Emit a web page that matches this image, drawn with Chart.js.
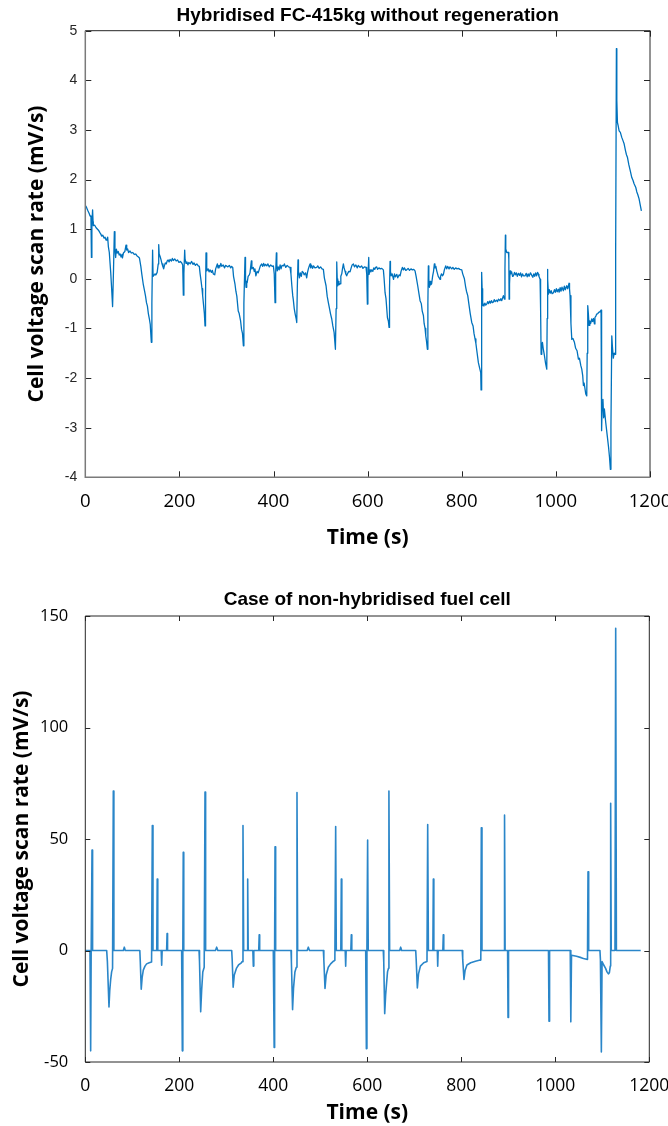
<!DOCTYPE html>
<html>
<head>
<meta charset="utf-8">
<script src="https://cdn.jsdelivr.net/npm/chart.js@4.4.1/dist/chart.umd.min.js"></script>
<style>
  html, body { margin: 0; padding: 0; background: #fff; }
  body { width: 668px; height: 1126px; position: relative; overflow: hidden; }
  canvas { position: absolute; left: 0; }
  #c1 { top: 0; }
  #c2 { top: 563px; }
</style>
</head>
<body>
<canvas id="c1" width="668" height="563" style="width:668px;height:563px"></canvas>
<canvas id="c2" width="668" height="563" style="width:668px;height:563px"></canvas>
<script>
// ---------------- DATA ----------------
const titleTop = 'Hybridised FC-415kg without regeneration';
const titleBottom = 'Case of non-hybridised fuel cell';
const xAxisLabel = 'Time (s)';
const yAxisLabel = 'Cell voltage scan rate (mV/s)';

const xTickRange = [0, 1200, 200];        // min, max, step (both charts)
const yTickRangeTop = [-4, 5, 1];
const yTickRangeBottom = [-50, 150, 50];

// [time (s), scan rate (mV/s)] – hybridised FC-415kg
const hybridPoints = [
 [0,1.48],[2,1.45],[5,1.38],[8,1.32],[10,1.27],[12,1.25],[13,0.43],[14,1.1],[15.5,1.39],[16.5,1.15],[17,1.07],
 [20,1.08],[23,1.03],[26,1.0],[28,0.98],[31,0.93],[33,0.9],[35,0.86],[37,0.88],[40,0.82],[42,0.84],[44,0.78],
 [46,0.8],[47.5,0.84],[49,0.65],[51,0.53],[54,0.13],[56,-0.2],[58,-0.56],[60,0.2],[61.7,0.95],[63,0.6],[64.5,0.43],
 [66,0.6],[68,0.52],[70,0.55],[72,0.48],[74,0.5],[76,0.44],[78,0.49],[79,0.42],[81,0.52],[84,0.55],[86.5,0.68],
 [88,0.58],[90,0.6],[92,0.53],[95,0.56],[98,0.52],[101,0.53],[104,0.49],[107,0.5],[110,0.46],[113,0.44],[115,0.42],
 [118,0.25],[120,0.1],[123,-0.1],[126,-0.25],[128,-0.35],[130,-0.48],[132,-0.55],[134,-0.7],[136,-0.8],[138,-0.92],
 [140.3,-1.28],[141.5,-0.5],[143,0.58],[144,0.05],[146,0.08],[148,0.1],[150,0.08],[152.7,0.13],[155,0.3],[156,0.69],
 [157,0.5],[159,0.45],[161,0.38],[163,0.3],[165,0.24],[166.5,0.2],[168,0.26],[170,0.32],[172,0.3],[174,0.36],
 [176,0.38],[178,0.34],[180,0.39],[183,0.36],[185,0.41],[187,0.37],[190,0.4],[193,0.36],[196,0.38],[199,0.33],
 [202,0.35],[205,0.32],[207,0.28],[208.3,-0.33],[209.5,0.1],[211.2,0.58],[212,0.4],[214,0.31],[216,0.34],[218,0.28],
 [220,0.33],[223,0.3],[226,0.35],[229,0.29],[231,0.32],[234,0.27],[237,0.3],[240,0.26],[242.3,0.25],[244,0.1],
 [246,-0.04],[248,-0.2],[249.4,-0.34],[251,-0.5],[253,-0.7],[254.4,-0.95],[255.5,-0.3],[256.5,0.52],[257.5,0.25],
 [258.6,0.16],[261,0.2],[263,0.14],[265,0.18],[268,0.13],[270,0.17],[272,0.1],[275,0.08],[277,0.2],[280.6,0.3],
 [282,0.22],[284,0.27],[286,0.24],[288,0.31],[290,0.25],[293,0.28],[296,0.22],[298,0.27],[300,0.26],[303,0.24],
 [306,0.27],[309,0.22],[311,0.25],[313.3,0.23],[315,0.05],[318,-0.1],[320,-0.25],[322,-0.35],[325,-0.65],[327,-0.7],
 [330,-0.85],[332,-1.02],[334,-1.1],[335.9,-1.35],[337,-0.5],[339.4,0.43],[340.5,0.0],[341.5,-0.17],[343,-0.05],
 [344,-0.08],[346,0.05],[348.5,0.08],[350,0.12],[352.9,0.36],[354,0.2],[357,0.23],[359,0.15],[360.5,0.2],[362.5,0.06],
 [365,0.15],[367.5,0.12],[370,0.2],[372,0.26],[374.9,0.3],[377,0.25],[379,0.31],[381,0.26],[383,0.29],[385.6,0.26],
 [388,0.3],[391,0.24],[394,0.28],[397,0.25],[399.7,0.26],[401.5,0.1],[403.2,-0.48],[404.5,0.1],[406,0.52],[407,0.3],
 [408,0.16],[410,0.24],[412,0.18],[414,0.28],[416,0.2],[418,0.27],[421,0.26],[423,0.3],[426,0.23],[429,0.27],
 [432,0.24],[435,0.23],[437,0.1],[439,-0.15],[440.8,-0.34],[442,-0.42],[444,-0.6],[446,-0.71],[448,-0.8],[449.3,-0.88],
 [450.5,-0.2],[452,0.38],[453,0.15],[455,0.02],[457,0.12],[459,0.05],[461,0.15],[463.3,0.13],[465,0.08],[468,0.12],
 [470.4,0.02],[472,0.12],[474,0.2],[476,0.26],[477.6,0.3],[479,0.22],[481,0.27],[483,0.21],[485,0.26],[488,0.22],
 [491.8,0.23],[494,0.26],[497,0.21],[500,0.24],[503,0.2],[505.9,0.19],[508,0.02],[511.6,-0.14],[514,-0.35],
 [516.5,-0.48],[519,-0.6],[521,-0.7],[523.7,-0.81],[526,-0.95],[528.7,-1.08],[531.5,-1.42],[533,-0.6],[534.3,0.34],
 [535.3,0.0],[536.4,-0.14],[538,-0.05],[539,-0.12],[541.4,-0.1],[543,0.05],[545,0.1],[546.5,0.2],[548.4,0.3],
 [550,0.22],[552,0.15],[553.5,0.1],[555.5,0.06],[557,0.1],[560,0.15],[562.6,0.14],[565,0.22],[567,0.28],[569.7,0.3],
 [572,0.24],[575,0.28],[578,0.22],[580,0.27],[583.9,0.23],[587,0.26],[590,0.21],[593,0.24],[596.6,0.23],[598,0.1],
 [599.4,-0.51],[600.5,0.0],[602.3,0.43],[603,0.09],[605,0.18],[607,0.14],[608.7,0.18],[611,0.15],[613,0.22],
 [615,0.19],[617,0.23],[619.3,0.24],[621,0.19],[624,0.22],[627,0.2],[630,0.21],[633.4,0.18],[635,0.0],[637,-0.28],
 [639,-0.4],[642,-0.78],[644,-0.85],[645.5,-0.98],[646.5,-0.2],[647.6,0.35],[648.5,0.15],[650,0.06],[652,0.1],
 [655,-0.01],[657,0.1],[659,0.04],[662,0.09],[664,0.02],[667,0.08],[669,0.06],[671,0.15],[673.8,0.23],[676,0.18],
 [678,0.22],[681,0.17],[683,0.18],[686,0.21],[689,0.17],[692,0.2],[695,0.18],[698,0.19],[700.7,0.16],[703,0.05],
 [706.4,-0.14],[709,-0.3],[711.4,-0.44],[714,-0.5],[716,-0.65],[718.5,-0.74],[720,-0.9],[722,-1.0],[723.5,-1.15],
 [725,-1.25],[726.9,-1.42],[728,-0.5],[729,0.26],[730,0.0],[731.3,-0.17],[733,-0.05],[734,-0.12],[736,-0.1],
 [738,0.05],[740,0.15],[741.8,0.3],[743,0.22],[745,0.25],[746.8,0.16],[748,0.12],[750,0.05],[752,0.02],[753.9,-0.01],
 [755,0.05],[757,0.1],[759,0.06],[761,0.09],[763,0.18],[765.9,0.26],[768,0.2],[770,0.25],[773,0.2],[775,0.24],
 [778.7,0.2],[781,0.23],[784,0.19],[787,0.22],[790,0.2],[793,0.21],[796,0.19],[800,0.18],[802,0.1],[805.6,0.0],
 [808,-0.15],[810,-0.25],[812.7,-0.34],[815,-0.5],[818,-0.7],[821.2,-0.88],[824,-0.95],[826,-1.1],[828.2,-1.21],
 [830,-1.3],[832,-1.45],[835.3,-1.69],[838,-1.8],[840.3,-1.89],[841,-2.24],[842,-1.0],[842.5,0.13],[843.3,-0.2],
 [843.8,-0.54],[845,-0.48],[847,-0.55],[849,-0.49],[851,-0.53],[853,-0.51],[855,-0.46],[857,-0.5],[859,-0.45],
 [861,-0.49],[863,-0.44],[865,-0.48],[867,-0.47],[869,-0.42],[871,-0.46],[874,-0.43],[876,-0.46],[878,-0.41],
 [881,-0.44],[883,-0.4],[885,-0.44],[887,-0.38],[888.5,-0.34],[890.6,-0.41],[891.8,0.2],[892.7,0.88],[893.5,0.6],
 [895.6,0.53],[899.2,0.53],[900,0.4],[900.6,-0.41],[901.5,-0.1],[902.7,0.16],[904,0.1],[906,0.14],[908,0.05],
 [909.8,0.06],[912,0.13],[914,0.08],[916,0.12],[918,0.05],[920.5,0.11],[923,0.07],[925,0.12],[927,0.04],[929,0.1],
 [931,0.06],[934.6,0.06],[937,0.11],[939,0.04],[941,0.1],[943,0.05],[946,0.12],[948.8,0.07],[951,0.03],[953,0.1],
 [955,0.05],[957,0.12],[959,0.06],[961,0.13],[962.9,0.09],[964,0.05],[966.4,-0.01],[967.5,-0.6],[968.6,-1.52],
 [970,-1.4],[971.4,-1.28],[973,-1.4],[975.7,-1.55],[978,-1.7],[980.6,-1.82],[981.5,-0.8],[982,0.19],[983,0.0],
 [984.2,-0.31],[986,-0.22],[988,-0.29],[990,-0.24],[992,-0.3],[994.8,-0.28],[997,-0.22],[999,-0.27],[1001,-0.2],
 [1003,-0.26],[1005.3,-0.21],[1007,-0.27],[1009,-0.18],[1011,-0.25],[1013,-0.17],[1015.9,-0.24],[1018,-0.15],
 [1020,-0.22],[1023,-0.14],[1025,-0.2],[1028,-0.09],[1029,-0.2],[1030.1,-0.34],[1032,-0.9],[1033.8,-1.22],
 [1036,-1.2],[1039.4,-1.28],[1042,-1.4],[1045,-1.45],[1047.9,-1.62],[1050,-1.6],[1053,-1.75],[1055,-1.82],
 [1057,-1.95],[1058.5,-2.15],[1060,-2.1],[1063.5,-2.32],[1065.6,-2.36],[1066.5,-1.5],[1067.7,-0.54],[1069,-0.7],
 [1070.5,-0.94],[1072,-0.85],[1074,-0.9],[1076.2,-0.81],[1078,-0.86],[1080,-0.8],[1081.9,-0.91],[1083,-0.78],
 [1085,-0.75],[1086.8,-0.71],[1089,-0.7],[1092,-0.67],[1094,-0.66],[1096,-0.63],[1096.8,-2.0],[1097.5,-3.06],
 [1098.5,-2.5],[1100,-2.43],[1101.5,-2.8],[1103,-2.62],[1106,-2.9],[1109,-3.15],[1112,-3.4],[1114,-3.6],
 [1115.8,-3.84],[1117,-3.0],[1118.8,-1.15],[1120,-1.35],[1122,-1.6],[1124,-1.5],[1125.8,-1.52],[1127,0.5],
 [1128.6,4.64],[1129.5,3.6],[1130.8,3.15],[1132,3.1],[1134.4,2.98],[1137,2.95],[1140,2.85],[1142,2.8],[1145,2.72],
 [1148,2.58],[1150,2.5],[1152,2.45],[1155,2.3],[1158,2.18],[1161.3,2.04],[1164,1.98],[1166,1.92],[1169.8,1.84],
 [1172,1.75],[1174,1.7],[1176.8,1.61],[1179,1.5],[1181.7,1.37]
];

// [time (s), scan rate (mV/s)] – non-hybridised fuel cell
const nonHybridPoints = [
 [0,0],[10,0],[11.4,-45],[12.5,0],[14.3,45],[15.5,0],[45.5,0],[47,-5],[50.4,-25.3],[52,-18],[54,-13],[56,-9.6],
 [58,-8],[59.6,71.5],[60.8,0],[81,0],[83,1.5],[85,0],[116,0],[117,-5],[119,-17.4],[121,-12],[123.4,-8.8],[127,-7],
 [130.5,-6],[136,-5.5],[141,-5.2],[142.6,56],[144,0],[152,0],[153,32],[154.2,0],[161.5,0],[162.5,-6.6],[163.5,0],
 [173,0],[174,7.6],[175,0],[205,0],[206.4,-45],[207.5,0],[208.4,44],[209.5,0],[242,0],[243,-5],[245.5,-27.5],
 [247.5,-18],[250,-9.6],[253,-7.5],[254.7,71],[256,0],[277,0],[279.5,1.5],[282,0],[311.5,0],[312.5,-4],[314.6,-16.5],
 [317,-11],[321.8,-7.9],[326,-6.5],[332,-5.5],[333.5,-5],[335.5,56],[337,0],[344.5,0],[345.5,32],[346.6,0],
 [356.5,0],[357.5,-7],[358.5,0],[369,0],[370,7],[371,0],[400,0],[401.8,-43.5],[402.8,0],[403.7,46.5],[405,0],
 [437.7,0],[438.5,-5],[441,-26.5],[443,-17],[446,-9.6],[449,-7.5],[450.4,70.8],[451.8,0],[472,0],[474.5,1.5],
 [477,0],[506.5,0],[507.5,-4],[510,-17],[512.5,-11],[517,-7.5],[522,-6],[528,-4.8],[531,-4.4],[532.7,55.6],[534,0],
 [543.7,0],[544.7,32],[545.8,0],[553,0],[554,-7],[555,0],[565,0],[566,7],[567,0],[596.6,0],[598,-44],[599.2,0],
 [600.7,49.5],[602,0],[634,0],[635,-5],[637,-28.3],[639,-20],[643,-9.6],[645,-8],[646,71.5],[647.5,0],[669,0],
 [671,1.5],[673,0],[703,0],[704,-4],[706.5,-16.8],[709,-10.5],[713,-7],[720,-5.5],[727,-4.9],[728.5,56.5],[730,0],
 [739.5,0],[740.5,32],[741.6,0],[749,0],[749.8,-7],[750.8,0],[760.7,0],[761.7,7],[762.7,0],[802,0],[803,-4],
 [805.7,-13],[808,-9],[812,-6.5],[820,-5.5],[830,-4.8],[840,-4.3],[841.5,-4.2],[842.6,55],[844,0],[891,0],
 [892,60.7],[893.2,0],[898.5,0],[899.4,-30],[900.5,0],[985.5,0],[986.6,-31.7],[987.8,0],[1031.8,0],[1033,-32],
 [1034.5,-2.1],[1045,-2.6],[1055,-3.2],[1060,-3.6],[1068.5,-4],[1069.6,35.3],[1071,0],[1095,0],[1096,-4],
 [1098,-45.5],[1099.5,-5],[1103,-6.5],[1107,-8],[1110,-9.6],[1113,-10.5],[1115,-10],[1117,-7],[1117.8,66],[1119,0],
 [1127,0],[1128.5,144.5],[1130,0],[1181.7,0]
];

// ---------------- HELPERS ----------------
const SANS = "'Liberation Sans', Arial, sans-serif";
const OPEN = "'Open Sans', 'Noto Sans', sans-serif";

// inward MATLAB-style ticks and axes box
const matlabFrame = {
  id: 'matlabFrame',
  afterDraw(chart, args, o) {
    const { ctx, chartArea: a, scales: { x, y } } = chart;
    const L = a.left, R = a.right, T = a.top, B = a.bottom;
    ctx.save();
    ctx.lineWidth = 1;
    ctx.strokeStyle = o.tickColor;
    ctx.beginPath();
    x.ticks.forEach(t => {
      const px = Math.round(x.getPixelForValue(t.value)) + 0.5;
      ctx.moveTo(px, B); ctx.lineTo(px, B - o.len);
      ctx.moveTo(px, T); ctx.lineTo(px, T + o.len);
    });
    y.ticks.forEach(t => {
      const py = Math.round(y.getPixelForValue(t.value)) + 0.5;
      ctx.moveTo(L, py); ctx.lineTo(L + o.len, py);
      ctx.moveTo(R, py); ctx.lineTo(R - o.len, py);
    });
    ctx.stroke();
    ctx.strokeStyle = o.boxColor;
    ctx.lineWidth = o.boxWidth;
    ctx.beginPath();
    ctx.moveTo(L, T); ctx.lineTo(R, T); ctx.lineTo(R, B);
    ctx.stroke();
    ctx.strokeStyle = o.axisColor;
    ctx.lineWidth = o.axisWidth;
    ctx.beginPath();
    ctx.moveTo(L, T); ctx.lineTo(L, B); ctx.lineTo(R, B);
    ctx.stroke();
    ctx.restore();
  }
};

const plainLabel = v => String(v);

function makeChart(id, cfg) {
  const pts = cfg.points.map(p => ({ x: p[0], y: p[1] }));
  return new Chart(document.getElementById(id), {
    type: 'line',
    data: { datasets: [{ data: pts, borderColor: cfg.lineColor, borderWidth: cfg.lineWidth,
      pointRadius: 0, tension: 0, fill: false, borderJoinStyle: 'round' }] },
    options: {
      responsive: false, animation: false, devicePixelRatio: 1,
      layout: { padding: { left: 0, right: cfg.padRight, top: 0, bottom: 0 } },
      plugins: {
        legend: { display: false }, tooltip: { enabled: false },
        title: { display: true, text: cfg.title, fullSize: false, color: '#000',
          font: { family: SANS, size: cfg.titleSize, weight: 'bold', lineHeight: 1.2 },
          padding: cfg.titlePad },
        matlabFrame: cfg.frame
      },
      scales: {
        x: {
          type: 'linear', position: 'bottom',
          min: xTickRange[0], max: xTickRange[1],
          afterFit: s => { s.height = cfg.xAxisHeight; s.paddingLeft = 0; s.paddingRight = 0; },
          grid: { display: false, drawTicks: false }, border: { display: false },
          ticks: { stepSize: xTickRange[2], color: '#000', padding: cfg.xTickPad, callback: plainLabel,
            font: { family: OPEN, size: cfg.xTickSize, lineHeight: 1.2 }, maxRotation: 0 },
          title: { display: true, text: xAxisLabel, color: '#000',
            font: { family: OPEN, size: 21, weight: 'bold', lineHeight: 1.2 },
            padding: { top: 0, bottom: cfg.xTitlePad } }
        },
        y: {
          type: 'linear', position: 'left',
          min: cfg.yRange[0], max: cfg.yRange[1],
          afterFit: s => { s.width = cfg.yAxisWidth; s.paddingTop = 0; s.paddingBottom = 0; },
          grid: { display: false, drawTicks: false }, border: { display: false },
          ticks: { stepSize: cfg.yRange[2], color: cfg.yTickColor, padding: cfg.yTickPad, callback: plainLabel,
            font: { family: cfg.yTickFamily, size: cfg.yTickSize, lineHeight: 1.2 } },
          title: { display: true, text: yAxisLabel, color: '#000',
            font: { family: OPEN, size: 21, weight: 'bold', lineHeight: 1.2 },
            padding: { top: cfg.yTitlePad, bottom: 0 } }
        }
      }
    },
    plugins: [matlabFrame]
  });
}

// ---------------- CHARTS ----------------
makeChart('c1', {
  points: hybridPoints, title: titleTop, titleSize: 19,
  titlePad: { top: 4, bottom: 3.9 },
  lineColor: '#0072BD', lineWidth: 1.3,
  padRight: 18, xAxisHeight: 85.7, xTickPad: 13, xTickSize: 18.6, xTitlePad: 12.5,
  yRange: yTickRangeTop, yAxisWidth: 85.3, yTickPad: 8, yTickSize: 14, yTickFamily: SANS,
  yTickColor: '#262626', yTitlePad: 24.5,
  frame: { len: 6, tickColor: '#262626', boxColor: '#262626', boxWidth: 1, axisColor: '#7a7a7a', axisWidth: 1.5 }
});

makeChart('c2', {
  points: nonHybridPoints, title: titleBottom, titleSize: 19,
  titlePad: { top: 25.6, bottom: 4.6 },
  lineColor: '#2a86c9', lineWidth: 1.6,
  padRight: 18.7, xAxisHeight: 64, xTickPad: 14, xTickSize: 17.5, xTitlePad: 0,
  yRange: yTickRangeBottom, yAxisWidth: 85.3, yTickPad: 17, yTickSize: 16.5, yTickFamily: OPEN,
  yTickColor: '#000', yTitlePad: 9.4,
  frame: { len: 5, tickColor: '#262626', boxColor: '#262626', boxWidth: 1, axisColor: '#262626', axisWidth: 1 }
});
</script>
</body>
</html>
